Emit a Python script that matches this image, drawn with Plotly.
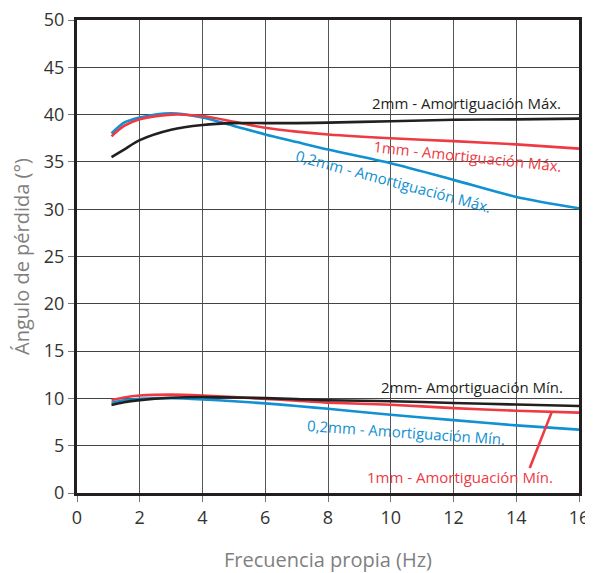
import plotly.graph_objects as go

freq = [1.1, 1.5, 2, 3, 4, 5, 6, 7, 8, 10, 12, 14, 16]

max_2mm = [35.5, 36.3, 37.3, 38.4, 38.9, 39.1, 39.1, 39.1, 39.15, 39.3, 39.45, 39.5, 39.57]
max_1mm = [37.7, 38.8, 39.5, 40.0, 39.85, 39.25, 38.6, 38.2, 37.9, 37.5, 37.2, 36.85, 36.4]
max_02mm = [38.0, 39.15, 39.7, 40.15, 39.7, 38.8, 37.9, 37.1, 36.3, 34.85, 33.1, 31.3, 30.1]

min_2mm = [9.3, 9.6, 9.82, 10.07, 10.15, 10.1, 10.03, 9.92, 9.8, 9.7, 9.52, 9.35, 9.2]
min_1mm = [9.82, 10.1, 10.3, 10.4, 10.3, 10.13, 9.95, 9.75, 9.55, 9.33, 8.97, 8.7, 8.5]
min_02mm = [9.54, 9.8, 9.96, 10.03, 9.9, 9.7, 9.47, 9.2, 8.9, 8.27, 7.7, 7.15, 6.7]

x_ticks = [0, 2, 4, 6, 8, 10, 12, 14, 16]
y_ticks = [0, 5, 10, 15, 20, 25, 30, 35, 40, 45, 50]

BLACK = "#231f20"
RED = "#ee3a43"
BLUE = "#1190d2"
FONT = "Open Sans"

fig = go.Figure()
series = [
    (max_02mm, BLUE), (max_1mm, RED), (max_2mm, BLACK),
    (min_02mm, BLUE), (min_1mm, RED), (min_2mm, BLACK),
]
for ys, c in series:
    fig.add_trace(go.Scatter(x=freq, y=ys, mode="lines",
                             line=dict(color=c, width=2.6, shape="spline", smoothing=0.8),
                             showlegend=False, hoverinfo="skip"))

labels = [
    ("2mm - Amortiguación Máx.", 12.42, 41.2, 0, BLACK),
    ("1mm - Amortiguación Máx.", 12.45, 35.6, 6, RED),
    ("0,2mm - Amortiguación Máx.", 10.08, 33.0, 15, BLUE),
    ("2mm- Amortiguación Mín.", 12.58, 11.2, 0, BLACK),
    ("0,2mm - Amortiguación Mín.", 10.48, 6.45, 4, BLUE),
    ("1mm - Amortiguación Mín.", 12.2, 1.7, 0, RED),
]
for text, x, y, ang, c in labels:
    fig.add_annotation(x=x, y=y, text=text, showarrow=False, textangle=ang,
                       font=dict(family=FONT, size=15, color=c),
                       xanchor="center", yanchor="middle")

fig.add_shape(type="line", x0=14.43, y0=2.64, x1=15.13, y1=8.55,
              line=dict(color=RED, width=2.6), xref="x", yref="y")

fig.update_layout(
    width=593, height=573,
    margin=dict(l=69, r=22, t=12, b=88),
    plot_bgcolor="white", paper_bgcolor="white",
    font=dict(family=FONT),
)
fig.update_xaxes(range=[0, 16], tickvals=x_ticks, ticktext=[str(v) for v in x_ticks],
                 automargin=False,
                 showgrid=True, gridcolor="#555555", gridwidth=1,
                 showline=True, linecolor=BLACK, linewidth=3, mirror=True,
                 ticks="outside", ticklen=6, tickcolor="#777777", tickwidth=1,
                 tickfont=dict(family=FONT, size=18, color="#333333"),
                 title=dict(text="Frecuencia propia (Hz)", standoff=26,
                            font=dict(family=FONT, size=20, color="#7f7f7f")),
                 zeroline=False)
fig.update_yaxes(range=[0, 50], tickvals=y_ticks, ticktext=[str(v) for v in y_ticks],
                 automargin=False, ticklabeloverflow="allow",
                 showgrid=True, gridcolor="#444444", gridwidth=1,
                 showline=True, linecolor=BLACK, linewidth=3, mirror=True,
                 ticks="outside", ticklen=6, tickcolor="#777777", tickwidth=1,
                 tickfont=dict(family=FONT, size=18, color="#333333"),
                 title=dict(text="Ángulo de pérdida (°)", standoff=10,
                            font=dict(family=FONT, size=20, color="#7f7f7f")),
                 zeroline=False)

fig.write_html("out.html", config={"displayModeBar": False})
